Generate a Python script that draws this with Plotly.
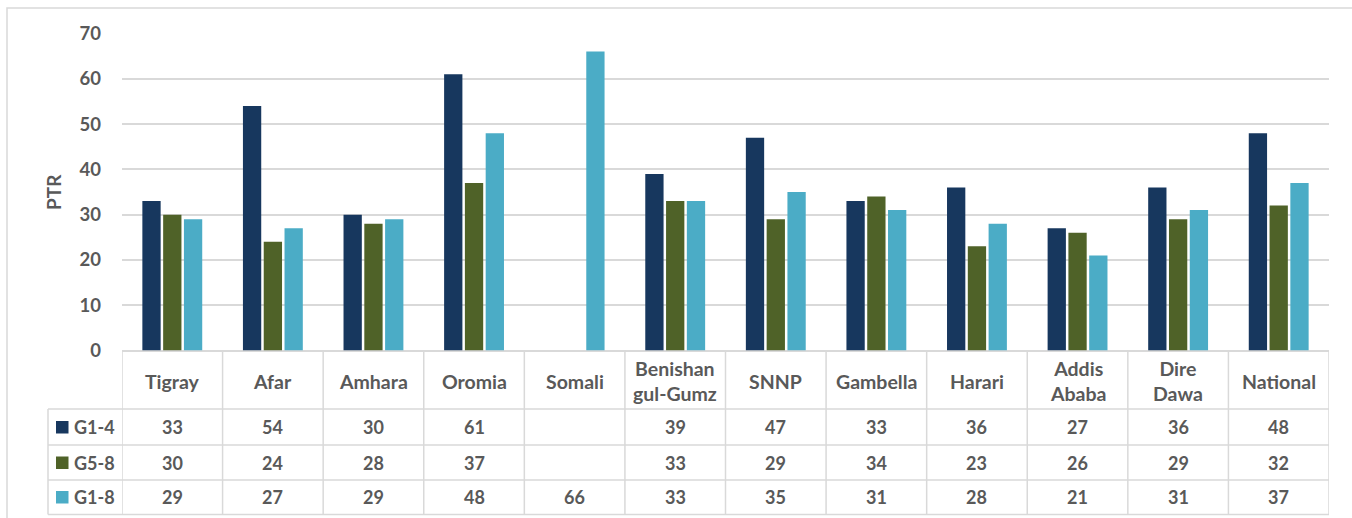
import plotly.graph_objects as go

# Pupil-teacher ratio by region
regions = ["Tigray", "Afar", "Amhara", "Oromia", "Somali", "Benishangul-Gumz",
           "SNNP", "Gambella", "Harari", "Addis Ababa", "Dire Dawa", "National"]
region_labels = ["Tigray", "Afar", "Amhara", "Oromia", "Somali", "Benishan<br>gul-Gumz",
                 "SNNP", "Gambella", "Harari", "Addis<br>Ababa", "Dire<br>Dawa", "National"]
series_names = ["G1-4", "G5-8", "G1-8"]
g1_4 = [33, 54, 30, 61, None, 39, 47, 33, 36, 27, 36, 48]
g5_8 = [30, 24, 28, 37, None, 33, 29, 34, 23, 26, 29, 32]
g1_8 = [29, 27, 29, 48, 66, 33, 35, 31, 28, 21, 31, 37]
y_ticks = [0, 10, 20, 30, 40, 50, 60, 70]

colors = ["#17375E", "#4F6228", "#4BACC6"]
series_values = [g1_4, g5_8, g1_8]

W, H = 1352, 518
TXT = "#595959"
GRID = "#D9D9D9"
FONT = "Lato"


def px(x):
    return x / W


def py(y):
    return 1 - y / H


def bold_font(size):
    return dict(family=FONT, size=size, color=TXT, weight="bold")


x_left, x_right = 122, 1329
y_top, y_zero = 33.5, 350.5

fig = go.Figure()
for name, vals, col in zip(series_names, series_values, colors):
    fig.add_trace(go.Bar(x=regions, y=vals, name=name, marker_color=col,
                         marker_line_width=0, showlegend=False))

shapes = []
annotations = []

# outer chart frame
shapes.append(dict(type="rect", xref="paper", yref="paper", x0=px(7), x1=px(1360),
                   y0=py(530), y1=py(8), line=dict(color=GRID, width=1.5)))

# data table grid
row_edges = [409, 445, 480, 514.5]
table_left = 48
for ye in row_edges:
    shapes.append(dict(type="line", xref="paper", yref="paper", x0=px(table_left), x1=px(x_right),
                       y0=py(ye), y1=py(ye), line=dict(color=GRID, width=1.5)))
shapes.append(dict(type="line", xref="paper", yref="paper", x0=px(table_left), x1=px(table_left),
                   y0=py(409), y1=py(514.5), line=dict(color=GRID, width=1.5)))
for i in range(len(regions) + 1):
    shapes.append(dict(type="line", xref="x", yref="paper", x0=i - 0.5, x1=i - 0.5,
                       y0=py(y_zero), y1=py(514.5), line=dict(color=GRID, width=1.5)))

# header row
for reg, lab in zip(regions, region_labels):
    annotations.append(dict(x=reg, y=py(381), xref="x", yref="paper", text=lab,
                            showarrow=False, font=bold_font(19.5), align="center",
                            xanchor="center", yanchor="middle"))

# value rows with legend keys
row_centers = [427, 462.5, 497]
for name, vals, col, yc in zip(series_names, series_values, colors, row_centers):
    shapes.append(dict(type="rect", xref="paper", yref="paper", x0=px(56), x1=px(68.5),
                       y0=py(yc + 6.5), y1=py(yc - 6), fillcolor=col, line=dict(width=0)))
    annotations.append(dict(x=px(72), y=py(yc), xref="paper", yref="paper",
                            text=name, showarrow=False, xanchor="left", yanchor="middle",
                            font=bold_font(18)))
    for reg, v in zip(regions, vals):
        if v is None:
            continue
        annotations.append(dict(x=reg, y=py(yc), xref="x", yref="paper", text=str(v),
                                showarrow=False, xanchor="center", yanchor="middle",
                                font=bold_font(18)))

# y-axis title
annotations.append(dict(x=px(54), y=py(192), xref="paper", yref="paper", text="PTR",
                        textangle=-90, showarrow=False, xanchor="center", yanchor="middle",
                        font=bold_font(19)))

fig.update_layout(
    width=W, height=H,
    margin=dict(l=0, r=0, t=0, b=0, autoexpand=False),
    paper_bgcolor="white", plot_bgcolor="white",
    barmode="group", bargap=0.38, bargroupgap=0.12,
    shapes=shapes, annotations=annotations,
    xaxis=dict(domain=[px(x_left), px(x_right)], range=[-0.5, len(regions) - 0.5],
               showticklabels=False, showgrid=False, zeroline=False, showline=False),
    yaxis=dict(domain=[py(y_zero), py(y_top)], range=[0, 70], tickvals=y_ticks,
               showgrid=True, gridcolor=GRID, gridwidth=1.5, zeroline=True,
               zerolinecolor=GRID, zerolinewidth=1.5, ticklabelstandoff=20,
               tickfont=bold_font(18.5)),
)

fig.write_html("out.html")
